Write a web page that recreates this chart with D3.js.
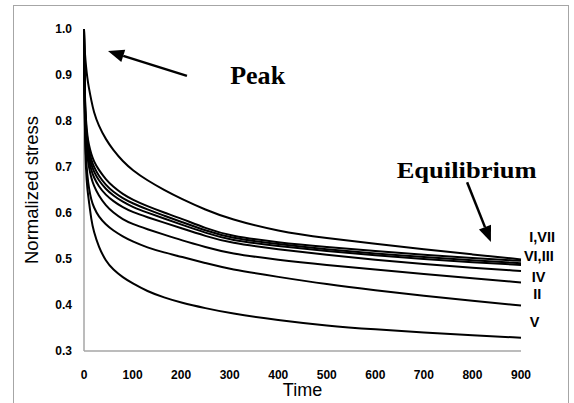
<!DOCTYPE html>
<html>
<head>
<meta charset="utf-8">
<script src="https://cdn.jsdelivr.net/npm/d3@7"></script>
<style>
  body { margin: 0; background: #fff; }
  svg { display: block; }
  text { font-family: "Liberation Sans", Arial, sans-serif; }
</style>
</head>
<body>
<svg id="chart" width="574" height="403"></svg>
<script>
// --- data ---
const times = [0, 1, 2, 4, 7, 10, 15, 20, 30, 45, 60, 80, 100, 130, 165, 200, 250, 300, 400, 500, 600, 700, 800, 900];

const curveA = [1.0, 0.965, 0.945, 0.92, 0.892, 0.872, 0.845, 0.82, 0.79, 0.76, 0.737, 0.712, 0.693, 0.671, 0.65, 0.631, 0.607, 0.587, 0.56, 0.545, 0.533, 0.521, 0.51, 0.499];
const curveB = [1.0, 0.9, 0.85, 0.8, 0.767, 0.748, 0.728, 0.713, 0.694, 0.673, 0.657, 0.641, 0.629, 0.615, 0.601, 0.588, 0.567, 0.55, 0.536, 0.526, 0.517, 0.509, 0.502, 0.496];
const curveC = [1.0, 0.89, 0.84, 0.79, 0.757, 0.737, 0.716, 0.701, 0.681, 0.661, 0.646, 0.632, 0.621, 0.608, 0.594, 0.581, 0.562, 0.546, 0.532, 0.521, 0.512, 0.504, 0.497, 0.491];
const curveD = [1.0, 0.88, 0.83, 0.78, 0.746, 0.726, 0.705, 0.691, 0.671, 0.652, 0.638, 0.624, 0.613, 0.601, 0.588, 0.575, 0.557, 0.541, 0.528, 0.517, 0.508, 0.5, 0.493, 0.487];
const curveE = [1.0, 0.87, 0.82, 0.77, 0.735, 0.714, 0.693, 0.678, 0.658, 0.639, 0.626, 0.612, 0.602, 0.591, 0.579, 0.567, 0.55, 0.535, 0.521, 0.509, 0.498, 0.489, 0.481, 0.474];
const curveF = [1.0, 0.86, 0.81, 0.76, 0.722, 0.7, 0.676, 0.66, 0.638, 0.616, 0.601, 0.586, 0.576, 0.565, 0.553, 0.541, 0.526, 0.512, 0.498, 0.487, 0.477, 0.467, 0.458, 0.449];
const curveG = [1.0, 0.84, 0.78, 0.72, 0.68, 0.655, 0.628, 0.613, 0.592, 0.575, 0.562, 0.549, 0.538, 0.525, 0.514, 0.505, 0.491, 0.478, 0.461, 0.445, 0.432, 0.42, 0.409, 0.399];
const curveV = [1.0, 0.85, 0.77, 0.69, 0.65, 0.627, 0.585, 0.56, 0.527, 0.495, 0.477, 0.46, 0.447, 0.43, 0.416, 0.405, 0.393, 0.382, 0.367, 0.355, 0.347, 0.34, 0.334, 0.329];

const allCurves = [curveA, curveB, curveC, curveD, curveE, curveF, curveG, curveV];

const xTicks = [0, 100, 200, 300, 400, 500, 600, 700, 800, 900];
const yTicks = [0.3, 0.4, 0.5, 0.6, 0.7, 0.8, 0.9, 1.0];

// end labels: [text, baseline value, left edge in time units]
const endLabels = [
    ["I,VII", 0.536, 917],
    ["VI,III", 0.496, 906],
    ["IV", 0.450, 922],
    ["II", 0.413, 925],
    ["V", 0.352, 918],
];

// annotations (data coordinates)
const peakText = { t: 301, v: 0.880 };
const equilText = { t: 644, v: 0.676 };
const peakArrow = { from: [212, 0.898], to: [49.4, 0.952] };
const equilArrow = { from: [789, 0.667], to: [838, 0.537] };

// --- layout ---
const svg = d3.select("#chart");
const x = d3.scaleLinear().domain([0, 900]).range([84, 521]);
const y = d3.scaleLinear().domain([0.3, 1.0]).range([351, 29]);

// outer frame
svg.append("rect")
    .attr("x", 13.5).attr("y", 5.5)
    .attr("width", 555).attr("height", 420)
    .attr("fill", "none")
    .attr("stroke", "#a6a6a6")
    .attr("stroke-width", 1);

// axis lines (no tick marks)
const axisColor = "#a6a6a6";
svg.append("line")
    .attr("x1", x(0)).attr("x2", x(0))
    .attr("y1", y(1.0)).attr("y2", y(0.3))
    .attr("stroke", axisColor).attr("stroke-width", 1.5);
svg.append("line")
    .attr("x1", x(0)).attr("x2", x(900))
    .attr("y1", y(0.3)).attr("y2", y(0.3))
    .attr("stroke", axisColor).attr("stroke-width", 1.5);

// tick labels
svg.append("g").selectAll("text")
    .data(yTicks)
    .join("text")
    .attr("x", 72)
    .attr("y", (d) => y(d) + 4.2)
    .attr("text-anchor", "end")
    .style("font-size", "12px")
    .style("font-weight", "bold")
    .text((d) => d.toFixed(1));

svg.append("g").selectAll("text")
    .data(xTicks)
    .join("text")
    .attr("x", (d) => x(d))
    .attr("y", 379)
    .attr("text-anchor", "middle")
    .style("font-size", "12px")
    .style("font-weight", "bold")
    .text((d) => d);

// axis titles
svg.append("text")
    .attr("x", (x(0) + x(900)) / 2)
    .attr("y", 396)
    .attr("text-anchor", "middle")
    .style("font-size", "18px")
    .text("Time");

svg.append("text")
    .attr("transform", `translate(37.5,${(y(1.0) + y(0.3)) / 2}) rotate(-90)`)
    .attr("text-anchor", "middle")
    .style("font-size", "18.5px")
    .text("Normalized stress");

// curves
const line = d3.line()
    .x((d, i) => x(times[i]))
    .y((d) => y(d))
    .curve(d3.curveBasis);

svg.append("g").selectAll("path")
    .data(allCurves)
    .join("path")
    .attr("d", line)
    .attr("fill", "none")
    .attr("stroke", "#000")
    .attr("stroke-width", 2);

// curve labels
svg.append("g").selectAll("text")
    .data(endLabels)
    .join("text")
    .attr("x", (d) => x(d[2]))
    .attr("y", (d) => y(d[1]))
    .style("font-size", "14.5px")
    .style("font-weight", "bold")
    .text((d) => d[0]);

// annotation text
svg.append("text")
    .attr("x", x(peakText.t)).attr("y", y(peakText.v))
    .attr("textLength", 55).attr("lengthAdjust", "spacingAndGlyphs")
    .style("font-family", "'Liberation Serif', 'Times New Roman', serif")
    .style("font-weight", "bold")
    .style("font-size", "24.5px")
    .text("Peak");

svg.append("text")
    .attr("x", x(equilText.t)).attr("y", y(equilText.v))
    .attr("textLength", 140).attr("lengthAdjust", "spacingAndGlyphs")
    .style("font-family", "'Liberation Serif', 'Times New Roman', serif")
    .style("font-weight", "bold")
    .style("font-size", "24px")
    .text("Equilibrium");

// arrows
function drawArrow(a) {
    const x1 = x(a.from[0]), y1 = y(a.from[1]);
    const x2 = x(a.to[0]), y2 = y(a.to[1]);
    const ang = Math.atan2(y2 - y1, x2 - x1);
    const headLen = 16, headHalf = 6.5;
    const bx = x2 - headLen * Math.cos(ang), by = y2 - headLen * Math.sin(ang);
    svg.append("line")
        .attr("x1", x1).attr("y1", y1)
        .attr("x2", bx).attr("y2", by)
        .attr("stroke", "#000").attr("stroke-width", 2.5);
    const px = -Math.sin(ang) * headHalf, py = Math.cos(ang) * headHalf;
    svg.append("polygon")
        .attr("points", [[x2, y2], [bx + px, by + py], [bx - px, by - py]].map((p) => p.join(",")).join(" "))
        .attr("fill", "#000");
}
drawArrow(peakArrow);
drawArrow(equilArrow);
</script>
</body>
</html>
